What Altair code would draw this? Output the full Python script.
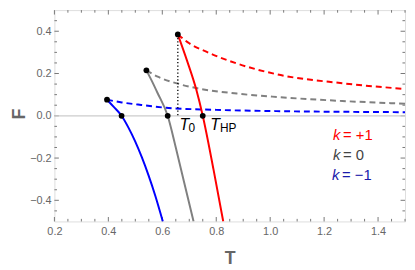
import altair as alt
import pandas as pd

# ---------------- data ----------------
# k = +1
red_solid_T = [0.6576, 0.692, 0.726, 0.750, 0.790, 0.826]
red_solid_F = [0.385, 0.260, 0.124, 0.000, -0.255, -0.500]
red_dash_T = [0.6576, 0.700, 0.765, 0.875, 1.022, 1.267, 1.500]
red_dash_F = [0.385, 0.343, 0.302, 0.248, 0.197, 0.154, 0.127]
# k = 0
gray_solid_T = [0.541, 0.562, 0.582, 0.620, 0.650, 0.680, 0.716]
gray_solid_F = [0.215, 0.163, 0.109, 0.000, -0.150, -0.310, -0.500]
gray_dash_T = [0.541, 0.583, 0.657, 0.730, 0.877, 1.024, 1.267, 1.500]
gray_dash_F = [0.215, 0.185, 0.152, 0.130, 0.105, 0.089, 0.070, 0.057]
# k = -1
blue_solid_T = [0.395, 0.420, 0.449, 0.474, 0.499, 0.524, 0.549, 0.574, 0.602]
blue_solid_F = [0.076, 0.042, 0.000, -0.055, -0.120, -0.196, -0.282, -0.378, -0.500]
blue_dash_T = [0.395, 0.450, 0.510, 0.614, 0.800, 1.024, 1.250, 1.500]
blue_dash_F = [0.076, 0.063, 0.053, 0.038, 0.028, 0.022, 0.019, 0.017]

# special points: cusps and zero crossings
pts_T = [0.6576, 0.750, 0.541, 0.620, 0.395, 0.449]
pts_F = [0.385, 0.000, 0.215, 0.000, 0.076, 0.000]

# axes
x_major = [0.2, 0.4, 0.6, 0.8, 1.0, 1.2, 1.4]
x_minor = [0.25, 0.3, 0.35, 0.45, 0.5, 0.55, 0.65, 0.7, 0.75, 0.85, 0.9, 0.95,
           1.05, 1.1, 1.15, 1.25, 1.3, 1.35, 1.45, 1.5]
y_major = [-0.4, -0.2, 0.0, 0.2, 0.4]
y_minor = [-0.45, -0.35, -0.3, -0.25, -0.15, -0.1, -0.05, 0.05, 0.1, 0.15,
           0.25, 0.3, 0.35, 0.45]

series = ["k=+1", "k=0", "k=-1"]
colors = ["#ff0000", "#808080", "#0000ff"]

W, H = 355, 214
FONT = "Liberation Sans"

def curve(T, F, s):
    return pd.DataFrame({"T": T, "F": F, "s": s})

solid = pd.concat([curve(red_solid_T, red_solid_F, "k=+1"),
                   curve(gray_solid_T, gray_solid_F, "k=0"),
                   curve(blue_solid_T, blue_solid_F, "k=-1")])
dashed = pd.concat([curve(red_dash_T, red_dash_F, "k=+1"),
                    curve(gray_dash_T, gray_dash_F, "k=0"),
                    curve(blue_dash_T, blue_dash_F, "k=-1")])

xscale = alt.Scale(domain=[0.2, 1.5], nice=False, zero=False)
yscale = alt.Scale(domain=[-0.5, 0.5], nice=False, zero=False)
xaxis = alt.Axis(values=x_major, format=".1f", ticks=False, domain=False, grid=False,
                 labelFont=FONT, labelFontSize=11, labelColor="#666666", labelPadding=4.7,
                 title="T", titleFont=FONT, titleFontSize=18, titleFontWeight="bold",
                 titleColor="#666666", titleX=W / 2, titleY=42.5, titleAlign="center",
                 titleBaseline="alphabetic", labelFlush=False)
yaxis = alt.Axis(values=y_major, format=".1f", ticks=False, domain=False, grid=False,
                 labelFont=FONT, labelFontSize=11, labelColor="#666666", labelPadding=3.3,
                 title="F", titleFont=FONT, titleFontSize=18, titleFontWeight="bold",
                 titleColor="#666666", titleX=-30.5, titleY=104.8, titleAlign="center",
                 titleBaseline="alphabetic", titleAngle=270, labelFlush=False)

X = alt.X("T:Q", scale=xscale, axis=xaxis)
Y = alt.Y("F:Q", scale=yscale, axis=yaxis)
color = alt.Color("s:N", scale=alt.Scale(domain=series, range=colors), legend=None)

tick_c = "#777777"
xt_major = pd.DataFrame({"T": x_major})
xt_minor = pd.DataFrame({"T": x_minor})
yt_major = pd.DataFrame({"F": y_major})
yt_minor = pd.DataFrame({"F": y_minor})

def xticks(df, L):
    b = alt.Chart(df).mark_rule(color=tick_c, strokeWidth=1)
    return (b.encode(x=X, y=alt.value(H), y2=alt.value(H - L)) +
            b.encode(x=X, y=alt.value(0), y2=alt.value(L)))

def yticks(df, L):
    b = alt.Chart(df).mark_rule(color=tick_c, strokeWidth=1)
    return (b.encode(y=Y, x=alt.value(0), x2=alt.value(L)) +
            b.encode(y=Y, x=alt.value(W), x2=alt.value(W - L)))

ticks = xticks(xt_major, 4.5) + xticks(xt_minor, 2.6) + yticks(yt_major, 4.5) + yticks(yt_minor, 2.6)

zero = alt.Chart(pd.DataFrame({"F": [0.0]})).mark_rule(color="#cccccc", strokeWidth=1.3).encode(y=Y)

solid_l = alt.Chart(solid).mark_line(strokeWidth=2, interpolate="monotone", clip=True).encode(
    x=X, y=Y, color=color, detail="s:N")
dash_l = alt.Chart(dashed).mark_line(strokeWidth=2, interpolate="monotone", strokeDash=[6, 4],
                                     clip=True).encode(x=X, y=Y, color=color, detail="s:N")

dot_df = pd.DataFrame({"T": [red_solid_T[0]], "F": [red_solid_F[0]], "F0": [0.0]})
dotted = alt.Chart(dot_df).mark_rule(color="black", strokeWidth=1.3, strokeDash=[1.3, 2.2]).encode(
    x=X, y=Y, y2="F0:Q")

pts = alt.Chart(pd.DataFrame({"T": pts_T, "F": pts_F})).mark_circle(
    size=34, color="black", opacity=1).encode(x=X, y=Y)

# annotations (data coordinates)
lab_T = [0.664, 0.7775]
lab_F = [-0.0678, -0.0678]
lab_txt = ["T", "T"]
sub_T = [0.697, 0.814]
sub_F = [-0.0757, -0.0757]
sub_txt = ["0", "HP"]

labs = alt.Chart(pd.DataFrame({"T": lab_T, "F": lab_F, "t": lab_txt})).mark_text(
    font=FONT, fontSize=16, fontStyle="italic", align="left", baseline="alphabetic",
    color="black").encode(x=X, y=Y, text="t:N")
subs = alt.Chart(pd.DataFrame({"T": sub_T, "F": sub_F, "t": sub_txt})).mark_text(
    font=FONT, fontSize=12, align="left", baseline="alphabetic", color="black").encode(
    x=X, y=Y, text="t:N")

leg_k_T = [1.2327, 1.2327, 1.2290]
leg_F = [-0.1168, -0.2112, -0.306]
leg_rest_T = [1.2700, 1.2700, 1.2663]
leg_rest = ["= +1", "= 0", "= \u22121"]
leg_colors = ["#ff0000", "#444444", "#1a1aaa"]
leg_df = pd.DataFrame({"T": leg_k_T, "T2": leg_rest_T, "F": leg_F, "r": leg_rest, "s": series})
leg_color = alt.Color("s:N", scale=alt.Scale(domain=series, range=leg_colors), legend=None)
leg_k = alt.Chart(leg_df).mark_text(font=FONT, fontSize=15, fontStyle="italic", align="left",
                                    baseline="alphabetic", text="k").encode(
    x=X, y=Y, color=leg_color)
leg_r = alt.Chart(leg_df).mark_text(font=FONT, fontSize=15, align="left",
                                    baseline="alphabetic").encode(
    x=alt.X("T2:Q", scale=xscale, axis=xaxis), y=Y, text="r:N", color=leg_color)

chart = alt.layer(ticks, zero, dash_l, solid_l, dotted, pts, labs, subs, leg_k, leg_r).resolve_scale(
    color="independent").properties(
    width=W, height=H,
    autosize=alt.AutoSizeParams(type="none"),
    padding={"left": 47, "top": 0.5, "right": 2, "bottom": 46},
).configure_view(stroke="#777777", strokeWidth=1).configure(background="white")

chart.save("out.html", embed_options={"renderer": "svg", "actions": False})
